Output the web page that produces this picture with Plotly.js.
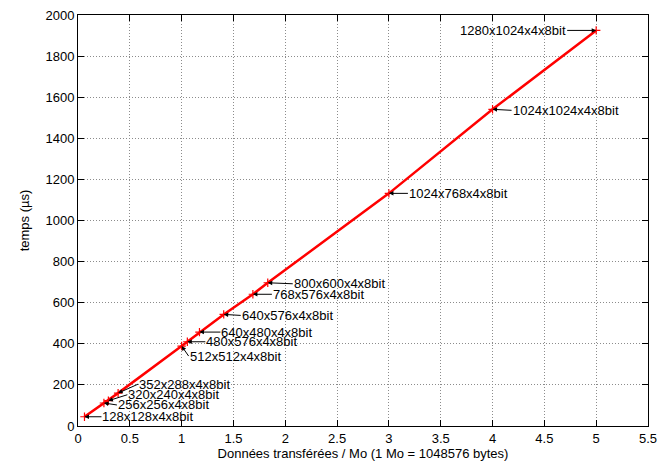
<!DOCTYPE html>
<html><head><meta charset="utf-8">
<script src="https://cdn.plot.ly/plotly-3.0.1.min.js"></script>
<style>body{margin:0;background:#fff}#c{width:658px;height:468px}</style>
</head><body><div id="c"></div>
<script>
const labels = ["128x128x4x8bit","256x256x4x8bit","320x240x4x8bit","352x288x4x8bit","512x512x4x8bit","480x576x4x8bit","640x480x4x8bit","640x576x4x8bit","768x576x4x8bit","800x600x4x8bit","1024x768x4x8bit","1024x1024x4x8bit","1280x1024x4x8bit"];
const dataMo = [0.0625,0.25,0.293,0.387,1.0,1.055,1.172,1.406,1.6875,1.831,3.0,4.0,5.0];
const tempsUs = [45,112,123,160,389,410,457,543,641,697,1132,1541,1925];
const xTicks = [0,0.5,1,1.5,2,2.5,3,3.5,4,4.5,5,5.5];
const xTickText = ["0","0.5","1","1.5","2","2.5","3","3.5","4","4.5","5","5.5"];
const labelDx = [17,13,19,20,7,18,21,17,19,25,19,19,-29];
const labelDy = [0,2,-6,-9,10,0,0,1,0,1,0,1,0];

const FONT = 'Liberation Sans, Arial, sans-serif';
const annotations = labels.map((t,i)=>({
  x: dataMo[i], y: tempsUs[i], xref:'x', yref:'y',
  text: t, showarrow:true, axref:'pixel', ayref:'pixel',
  ax: labelDx[i], ay: labelDy[i],
  xanchor: labelDx[i] < 0 ? 'right' : 'left', yanchor:'middle',
  arrowhead:2, arrowsize:0.9, arrowwidth:1, arrowcolor:'#000',
  standoff: 0, borderpad: 0,
  font:{family:FONT, size:13, color:'#000'}
}));

const axisCommon = {
  showline:true, linecolor:'#000', linewidth:1, mirror:'ticks',
  ticks:'inside', ticklen:6, tickcolor:'#000',
  showgrid:true, gridcolor:'#8c8c8c', griddash:'1px,2px', gridwidth:1,
  zeroline:false,
  tickfont:{family:FONT, size:13, color:'#000'}
};

Plotly.newPlot('c', [{
  x: dataMo, y: tempsUs, mode:'lines+markers', type:'scatter',
  line:{color:'#ff0000', width:2.5},
  marker:{symbol:'cross-thin', size:6, line:{color:'#ff0000', width:1.2}},
  showlegend:false, hoverinfo:'skip'
}], {
  width:658, height:468,
  margin:{l:78, r:10, t:15, b:42},
  paper_bgcolor:'#fff', plot_bgcolor:'#fff',
  xaxis: Object.assign({}, axisCommon, {range:[0,5.5], tickmode:'array', tickvals:xTicks, ticktext:xTickText,
    title:{text:'Données transférées / Mo (1 Mo = 1048576 bytes)', standoff:4,
      font:{family:FONT, size:13, color:'#000'}}}),
  yaxis: Object.assign({}, axisCommon, {range:[0,2000], dtick:200, tick0:0,
    title:{text:'temps (µs)', standoff:12,
      font:{family:FONT, size:13, color:'#000'}}}),
  annotations: annotations
}, {staticPlot:true});
</script></body></html>
